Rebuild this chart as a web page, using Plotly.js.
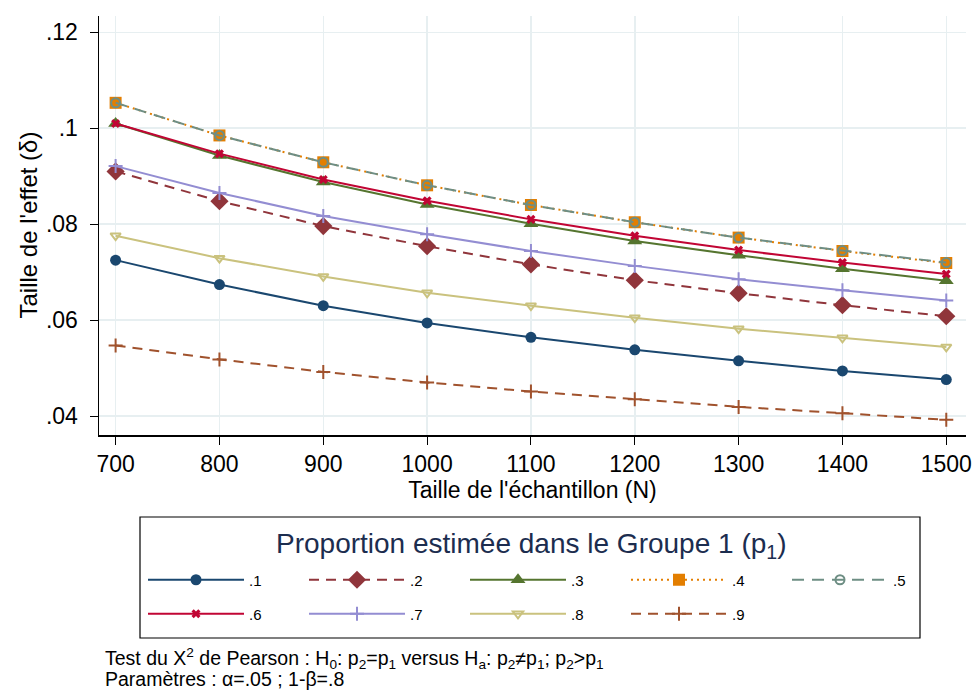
<!DOCTYPE html>
<html>
<head>
<meta charset="utf-8">
<script src="https://cdn.plot.ly/plotly-3.0.1.min.js"></script>
<style>html,body{margin:0;padding:0;background:#fff;}#chart{width:977px;height:690px;}</style>
</head>
<body>
<div id="chart"></div>
<script>
// Sample sizes (N)
const sampleSizes = [700, 800, 900, 1000, 1100, 1200, 1300, 1400, 1500];
// Effect size (delta) for each p1
const p1_01 = [0.0725, 0.0674, 0.0630, 0.0594, 0.0564, 0.0538, 0.0515, 0.0494, 0.0476];
const p1_02 = [0.0910, 0.0848, 0.0796, 0.0754, 0.0716, 0.0683, 0.0656, 0.0631, 0.0608];
const p1_03 = [0.1010, 0.0943, 0.0888, 0.0841, 0.0801, 0.0765, 0.0735, 0.0707, 0.0682];
const p1_04 = [0.1053, 0.0985, 0.0929, 0.0881, 0.0840, 0.0804, 0.0772, 0.0744, 0.0719];
const p1_05 = [0.1053, 0.0985, 0.0929, 0.0881, 0.0840, 0.0804, 0.0772, 0.0745, 0.0720];
const p1_06 = [0.1010, 0.0947, 0.0893, 0.0849, 0.0810, 0.0776, 0.0746, 0.0720, 0.0696];
const p1_07 = [0.0921, 0.0865, 0.0817, 0.0779, 0.0744, 0.0713, 0.0685, 0.0662, 0.0641];
const p1_08 = [0.0776, 0.0729, 0.0691, 0.0657, 0.0630, 0.0605, 0.0582, 0.0563, 0.0544];
const p1_09 = [0.0547, 0.0518, 0.0492, 0.0470, 0.0451, 0.0435, 0.0419, 0.0406, 0.0392];
const seriesLabels = ['.1', '.2', '.3', '.4', '.5', '.6', '.7', '.8', '.9'];
const yTickVals = [0.04, 0.06, 0.08, 0.10, 0.12];
const yTickText = ['.04', '.06', '.08', '.1', '.12'];
const xTickVals = [700, 800, 900, 1000, 1100, 1200, 1300, 1400, 1500];

const seriesData = [p1_01, p1_02, p1_03, p1_04, p1_05, p1_06, p1_07, p1_08, p1_09];
const colors = ['#1a476f', '#90353b', '#55752f', '#e37e00', '#6e8e84', '#c10534', '#938dd2', '#cac27e', '#a0522d'];
const dashes = ['solid', '10px,7px', 'solid', '2px,4px', '12px,8px', 'solid', 'solid', 'solid', '10px,7px'];
const symbols = ['circle', 'diamond', 'triangle-up', 'square', 'circle-open', 'x', 'cross-thin-open', 'triangle-down-open', 'cross-thin-open'];
const sizes = [11, 14, 13, 12, 9, 8, 10, 9, 10];

const traces = seriesData.map((vals, i) => {
  const m = {symbol: symbols[i], size: sizes[i], color: colors[i]};
  if (symbols[i].endsWith('-open')) m.line = {color: colors[i], width: 2};
  else m.line = {width: 0};
  return {
    type: 'scatter', mode: 'lines+markers', x: sampleSizes, y: vals,
    name: seriesLabels[i],
    legend: i < 5 ? 'legend' : 'legend2',
    line: {color: colors[i], width: 2, dash: dashes[i]},
    marker: m
  };
});

const font = 'Liberation Sans, Arial, sans-serif';
// plot area in pixels: left 99, right 966, top 16, bottom 435
const px = (x) => (x - 99) / 867;
const py = (y) => (435 - y) / 419;

const legendBase = {
  orientation: 'h', xanchor: 'left', yanchor: 'middle',
  borderwidth: 0, bgcolor: 'rgba(0,0,0,0)',
  font: {size: 15, family: font, color: '#000'},
  entrywidth: 50, entrywidthmode: 'pixels', itemwidth: 96,
  traceorder: 'normal'
};

const layout = {
  width: 977, height: 690,
  paper_bgcolor: '#ffffff', plot_bgcolor: '#ffffff',
  margin: {l: 99, r: 11, t: 16, b: 255},
  font: {family: font, color: '#000'},
  showlegend: true,
  xaxis: {
    range: [684, 1519], tickvals: xTickVals, ticks: 'outside', ticklen: 8, tickwidth: 1, tickcolor: '#000',
    showline: true, linecolor: '#000', linewidth: 1.5, mirror: false,
    showgrid: true, gridcolor: '#e7eff1', gridwidth: 1.5, zeroline: false,
    tickfont: {size: 23, family: font},
    title: {text: "Taille de l'échantillon (N)", font: {size: 23, family: font}, standoff: 6}
  },
  yaxis: {
    range: [0.03604, 0.1234], tickvals: yTickVals, ticktext: yTickText, ticks: 'outside', ticklen: 8, tickwidth: 1, tickcolor: '#000',
    showline: true, linecolor: '#000', linewidth: 1.5, ticklabelstandoff: 7,
    showgrid: true, gridcolor: '#e7eff1', gridwidth: 1.5, zeroline: false,
    tickfont: {size: 23, family: font}
  },
  legend: Object.assign({}, legendBase, {x: px(143), y: py(580)}),
  legend2: Object.assign({}, legendBase, {x: px(143), y: py(614)}),
  shapes: [{
    type: 'rect', xref: 'paper', yref: 'paper', x0: px(140), x1: px(920), y0: py(638), y1: py(517),
    line: {color: '#000', width: 1.2}, fillcolor: 'rgba(0,0,0,0)', layer: 'below'
  }],
  annotations: [
    {
      xref: 'paper', yref: 'paper', x: px(28), y: 0.5, xanchor: 'center', yanchor: 'middle', textangle: -90, showarrow: false,
      font: {size: 24, family: font, color: '#000'}, text: "Taille de l'effet (δ)"
    },
    {
      xref: 'paper', yref: 'paper', x: px(531), y: py(545), xanchor: 'center', yanchor: 'middle', showarrow: false,
      font: {size: 28, family: font, color: '#1c2d4f'}, text: 'Proportion estimée dans le Groupe 1 (p<sub>1</sub>)'
    },
    {
      xref: 'paper', yref: 'paper', x: px(103), y: py(658), xanchor: 'left', yanchor: 'middle', align: 'left', showarrow: false,
      font: {size: 19.5, family: font, color: '#000'},
      text: 'Test du X<sup>2</sup> de Pearson : H<sub>0</sub>: p<sub>2</sub>=p<sub>1</sub> versus H<sub>a</sub>: p<sub>2</sub>≠p<sub>1</sub>; p<sub>2</sub>>p<sub>1</sub>'
    },
    {
      xref: 'paper', yref: 'paper', x: px(103), y: py(679), xanchor: 'left', yanchor: 'middle', align: 'left', showarrow: false,
      font: {size: 19.5, family: font, color: '#000'},
      text: 'Paramètres : α=.05 ; 1-β=.8'
    }
  ]
};

Plotly.newPlot('chart', traces, layout, {displayModeBar: false, staticPlot: true});
</script>
</body>
</html>
